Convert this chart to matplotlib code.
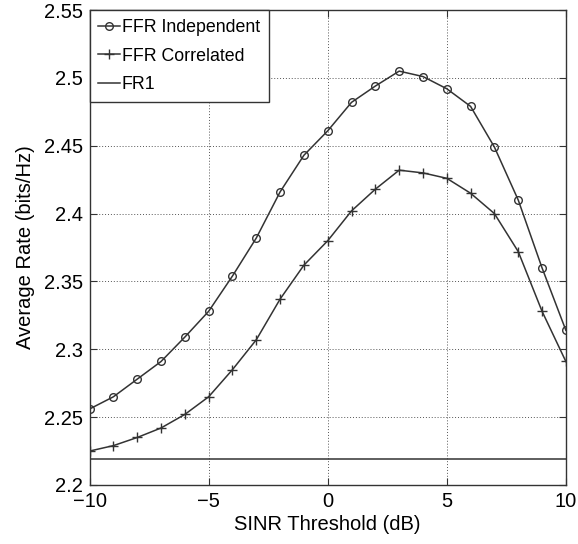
import numpy as np
import matplotlib.pyplot as plt

plt.rcParams["font.family"] = ["Liberation Sans", "DejaVu Sans"]

# SINR threshold (dB)
sinr_db = list(range(-10, 11))

# Average rate values
ffr_independent = [2.256, 2.265, 2.278, 2.291, 2.309, 2.328, 2.354, 2.382, 2.416, 2.443,
                   2.461, 2.482, 2.494, 2.505, 2.501, 2.492, 2.479, 2.449, 2.410, 2.360, 2.314]
ffr_correlated = [2.225, 2.229, 2.235, 2.242, 2.252, 2.265, 2.285, 2.307, 2.337, 2.362,
                  2.380, 2.402, 2.418, 2.432, 2.430, 2.426, 2.415, 2.400, 2.372, 2.328, 2.291]
fr1_rate = 2.219

x_ticks = [-10, -5, 0, 5, 10]
y_ticks = [2.2, 2.25, 2.3, 2.35, 2.4, 2.45, 2.5, 2.55]
y_tick_labels = ["2.2", "2.25", "2.3", "2.35", "2.4", "2.45", "2.5", "2.55"]

fig = plt.figure(figsize=(5.78, 5.44), dpi=100)
ax = fig.add_axes([0.155, 0.1085, 0.824, 0.873])

line_col = "#333333"
ax.plot(sinr_db, ffr_independent, color=line_col, linewidth=1.1, marker="o",
        markersize=5.5, markerfacecolor="none", markeredgecolor=line_col,
        markeredgewidth=1.0, label="FFR Independent")
ax.plot(sinr_db, ffr_correlated, color=line_col, linewidth=1.1, marker="+",
        markersize=7, markeredgewidth=1.0, label="FFR Correlated")
ax.plot(sinr_db, [fr1_rate] * len(sinr_db), color=line_col, linewidth=1.1, label="FR1")

ax.set_xlim(-10, 10)
ax.set_ylim(2.2, 2.55)
ax.set_xticks(x_ticks)
ax.set_xticklabels(["\u221210", "\u22125", "0", "5", "10"])
ax.set_yticks(y_ticks)
ax.set_yticklabels(y_tick_labels)
ax.tick_params(direction="in", top=True, right=True, labelsize=14.5, length=5,
               color="#333333", pad=5)
ax.grid(True, linestyle=(0, (1, 2)), color="#555555", linewidth=0.7)
for sp in ax.spines.values():
    sp.set_color("#333333")
    sp.set_linewidth(1.0)

ax.set_xlabel("SINR Threshold (dB)", fontsize=14.5, labelpad=3)
ax.set_ylabel("Average Rate (bits/Hz)", fontsize=14.5, labelpad=6)

leg = ax.legend(loc="upper left", fontsize=12.8, borderaxespad=0, fancybox=False,
                framealpha=1, edgecolor="#333333", handlelength=1.2,
                handletextpad=0.1, borderpad=0.5, labelspacing=0.66)
leg.get_frame().set_linewidth(1.0)

fig.savefig("out.png", dpi=100)
